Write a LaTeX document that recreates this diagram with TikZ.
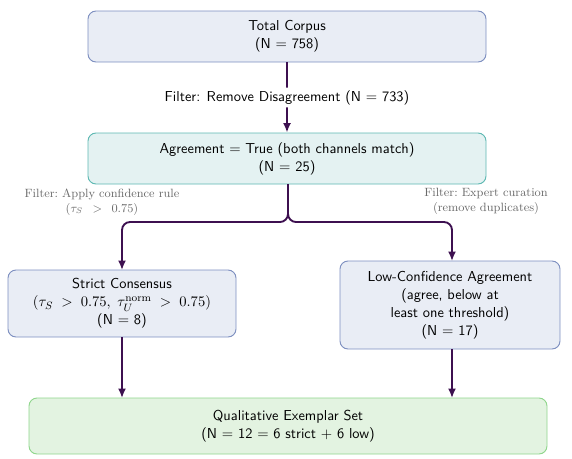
\documentclass[tikz,border=0pt]{standalone}
\usepackage{amsmath}
\usetikzlibrary{arrows.meta,positioning}
\definecolor{arrowc}{HTML}{3D1050}
\definecolor{bluefill}{HTML}{E9EDF5}
\definecolor{blueline}{HTML}{7D8FC0}
\definecolor{tealfill}{HTML}{E4F2F2}
\definecolor{tealline}{HTML}{5DB8B2}
\definecolor{greenfill}{HTML}{E3F3E1}
\definecolor{greenline}{HTML}{8FD68C}
\definecolor{graytext}{HTML}{6A6A6A}
\newcommand{\boxfont}{\fontsize{10.8}{13.5}\selectfont\sffamily}
\tikzset{
  px/.style={x=0.75pt,y=-0.75pt},
  box/.style={draw, rounded corners=6pt, line width=0.7pt, align=center, font=\boxfont, inner sep=0pt},
  bluebox/.style={box, fill=bluefill, draw=blueline},
  tealbox/.style={box, fill=tealfill, draw=tealline},
  greenbox/.style={box, fill=greenfill, draw=greenline},
  flow/.style={draw=arrowc, line width=1.4pt, rounded corners=6pt, -{Latex[length=7pt,width=6pt]}},
  sidelabel/.style={font=\small, text=graytext, align=center, inner sep=0pt},
}
\begin{document}
\begin{tikzpicture}[px]
\useasboundingbox (0,0) rectangle (572,458);
% boxes
\node[bluebox, minimum width=298.5pt, minimum height=38.25pt] (total) at (287,36.5)
  {Total Corpus\\(N $=$ 758)};
\node[tealbox, minimum width=298.5pt, minimum height=38.25pt] (agree) at (287,158.5)
  {Agreement $=$ True (both channels match)\\(N $=$ 25)};
\node[bluebox, minimum width=171pt, minimum height=50.25pt] (strict) at (122,303.5)
  {Strict Consensus\\$(\tau_S \;>\; 0.75,\; \tau_U^{\mathrm{norm}} \;>\; 0.75)$\\(N $=$ 8)};
\node[bluebox, minimum width=165pt, minimum height=66pt] (low) at (450,305)
  {Low-Confidence Agreement\\(agree, below at\\least one threshold)\\(N $=$ 17)};
\node[greenbox, minimum width=388.5pt, minimum height=42pt] (qual) at (288,426)
  {Qualitative Exemplar Set\\(N $=$ 12 $=$ 6 strict $+$ 6 low)};
% connectors
\coordinate (top) at (288,184);
\coordinate (split) at (288,222);
\coordinate (sin) at (122,270);
\coordinate (lin) at (452,261);
\coordinate (sout) at (122,337);
\coordinate (lout) at (452,349);
\coordinate (qs) at (122,398);
\coordinate (ql) at (452,398);
\draw[flow] (total) -- node[fill=white, font=\boxfont, inner sep=2pt] (flabel)
  {Filter: Remove Disagreement (N $=$ 733)} (agree);
\draw[flow] (top) -- (split) -| (sin);
\draw[flow] (top) -- (split) -| (lin);
\draw[flow] (sout) -- (qs);
\draw[flow] (lout) -- (ql);
% side labels
\node[sidelabel] (lab1) at (102,202) {Filter:\ Apply confidence rule\\$(\tau_S \enspace > \enspace 0.75)$};
\node[sidelabel] (lab2) at (486,201) {Filter:\ Expert curation\\(remove duplicates)};
\end{tikzpicture}
\end{document}
